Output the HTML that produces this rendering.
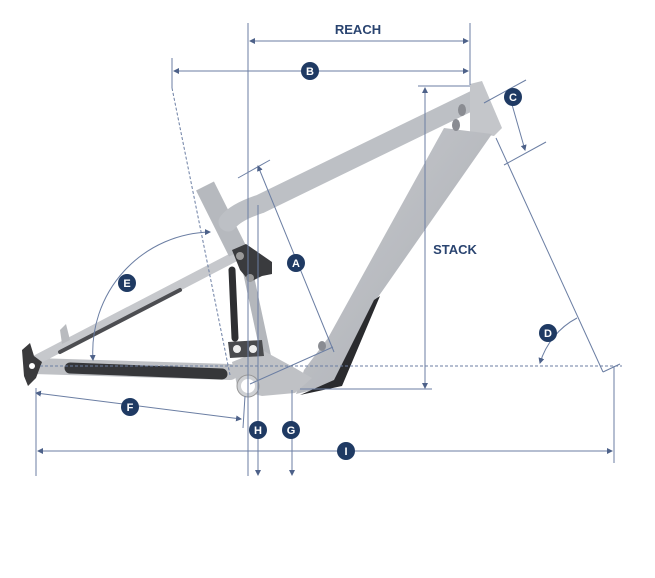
<!DOCTYPE html>
<html><head><meta charset="utf-8"><style>
html,body{margin:0;padding:0;background:#fff;}
svg{display:block;}
text{font-family:"Liberation Sans",sans-serif;font-weight:bold;}
</style></head><body>
<svg width="655" height="578" viewBox="0 0 655 578" xmlns="http://www.w3.org/2000/svg">
<defs>
<linearGradient id="fr" x1="0" y1="0" x2="1" y2="1">
<stop offset="0" stop-color="#c9cbcf"/><stop offset="1" stop-color="#a9acb2"/>
</linearGradient>
<marker id="ar" viewBox="0 0 6 6" refX="5" refY="3" markerWidth="6" markerHeight="6" orient="auto-start-reverse"><path d="M0,0 L6,3 L0,6 Z" fill="#4d6189"/></marker>
</defs>
<g stroke-linecap="round" fill="none">
<path d="M34,366 L230,372" stroke="#bfc1c5" stroke-width="16"/>
<path d="M70,368 L222,374" stroke="#36373a" stroke-width="11"/>
<path d="M36,360 L238,255" stroke="#c6c8cc" stroke-width="10"/>
<path d="M60,352 L180,290" stroke="#4c4d51" stroke-width="4"/>
<path d="M205,186 L238,252" stroke="#b6b9be" stroke-width="20" stroke-linecap="butt"/>
<path d="M228,222 Q236,212 260,204 L478,98" stroke="#bdc0c5" stroke-width="19"/>
<path d="M232,270 L235,338" stroke="#2e2f32" stroke-width="7"/>
<path d="M248,272 L266,356" stroke="#b4b7bc" stroke-width="10"/>
</g>
<g stroke="none">
<path d="M22,350 L30,343 L34,356 L42,362 L36,378 L28,386 L24,376 Z" fill="#3a3a3c"/>
<circle cx="32" cy="366" r="3" fill="#fff"/>
<path d="M60,330 L66,324 L70,340 L62,344 Z" fill="#b9bbbf"/>
<path d="M470,84 L482,81 L502,128 L494,136 L470,132 Z" fill="#c4c6ca"/>
<path d="M444,128 L492,134 L376,300 L338,384 L296,394 L304,370 L328,338 Z" fill="url(#fr)"/>
<path d="M374,300 L380,296 L342,386 L300,395 L334,380 Z" fill="#2a2b2e"/>
<path d="M232,250 L246,244 L272,262 L272,274 L262,276 L250,282 L240,270 Z" fill="#3a3b3e"/>
<circle cx="240" cy="256" r="4" fill="#999"/>
<circle cx="250" cy="278" r="4" fill="#999"/>
<path d="M232,362 L262,350 L295,368 L312,378 L295,393 L262,396 L238,390 Z" fill="#bfc1c5"/>
<path d="M228,342 L262,340 L264,356 L230,358 Z" fill="#4a4b4e"/>
<circle cx="237" cy="349" r="4" fill="#eee"/>
<circle cx="253" cy="349" r="4" fill="#eee"/>
<circle cx="248" cy="386" r="11" fill="#cfd1d4" stroke="#999"/>
<circle cx="248" cy="386" r="7" fill="#fff"/>
<ellipse cx="462" cy="110" rx="4" ry="6" fill="#8a8c92"/>
<ellipse cx="456" cy="125" rx="4" ry="6" fill="#8a8c92"/>
<ellipse cx="322" cy="346" rx="4" ry="5" fill="#8a8c92"/>
</g>
<g stroke="#6b7ea3" stroke-width="1" fill="none">
<line x1="248" y1="23" x2="248" y2="476"/>
<line x1="470" y1="23" x2="470" y2="85"/>
<line x1="250" y1="41" x2="468" y2="41" marker-start="url(#ar)" marker-end="url(#ar)"/>
<line x1="172" y1="58" x2="172" y2="88"/>
<line x1="174" y1="71" x2="468" y2="71" marker-start="url(#ar)" marker-end="url(#ar)"/>
<line x1="172" y1="88" x2="230" y2="375" stroke-dasharray="3,2"/>
<line x1="418" y1="86" x2="470" y2="86"/>
<line x1="425" y1="88" x2="425" y2="388" marker-start="url(#ar)" marker-end="url(#ar)"/>
<line x1="300" y1="389" x2="432" y2="389"/>
<line x1="484" y1="103" x2="526" y2="80"/>
<line x1="504" y1="165" x2="546" y2="142"/>
<line x1="509" y1="94" x2="525" y2="150" marker-start="url(#ar)" marker-end="url(#ar)"/>
<line x1="496" y1="138" x2="603" y2="372"/>
<line x1="603" y1="372" x2="620" y2="364"/>
<path d="M540,363 A75,75 0 0 1 577,318" marker-start="url(#ar)"/>
<line x1="40" y1="366" x2="622" y2="366" stroke-dasharray="3,2"/>
<line x1="238" y1="178" x2="270" y2="160"/>
<line x1="258" y1="166" x2="334" y2="352" marker-start="url(#ar)"/>
<line x1="250" y1="384" x2="333" y2="347"/>
<path d="M93,360 A120,120 0 0 1 210,232" marker-start="url(#ar)" marker-end="url(#ar)"/>
<line x1="36" y1="393" x2="241" y2="419" marker-start="url(#ar)" marker-end="url(#ar)"/>
<line x1="245" y1="396" x2="243" y2="428"/>
<line x1="258" y1="205" x2="258" y2="475" marker-end="url(#ar)"/>
<line x1="292" y1="390" x2="292" y2="475" marker-end="url(#ar)"/>
<line x1="36" y1="388" x2="36" y2="476"/>
<line x1="614" y1="366" x2="614" y2="463"/>
<line x1="38" y1="451" x2="612" y2="451" marker-start="url(#ar)" marker-end="url(#ar)"/>
</g>
<text x="358" y="34" font-size="13" fill="#2a4470" text-anchor="middle">REACH</text>
<text x="455" y="254" font-size="13" fill="#2a4470" text-anchor="middle">STACK</text>
<g fill="#1f3a63">
<circle cx="310" cy="71" r="9"/><circle cx="513" cy="97" r="9"/><circle cx="296" cy="263" r="9"/>
<circle cx="127" cy="283" r="9"/><circle cx="548" cy="333" r="9"/><circle cx="130" cy="407" r="9"/>
<circle cx="258" cy="430" r="9"/><circle cx="291" cy="430" r="9"/><circle cx="346" cy="451" r="9"/>
</g>
<g fill="#fff" font-size="11" text-anchor="middle">
<text x="310" y="75">B</text><text x="513" y="101">C</text><text x="296" y="267">A</text>
<text x="127" y="287">E</text><text x="548" y="337">D</text><text x="130" y="411">F</text>
<text x="258" y="434">H</text><text x="291" y="434">G</text><text x="346" y="455">I</text>
</g>
</svg>
</body></html>
